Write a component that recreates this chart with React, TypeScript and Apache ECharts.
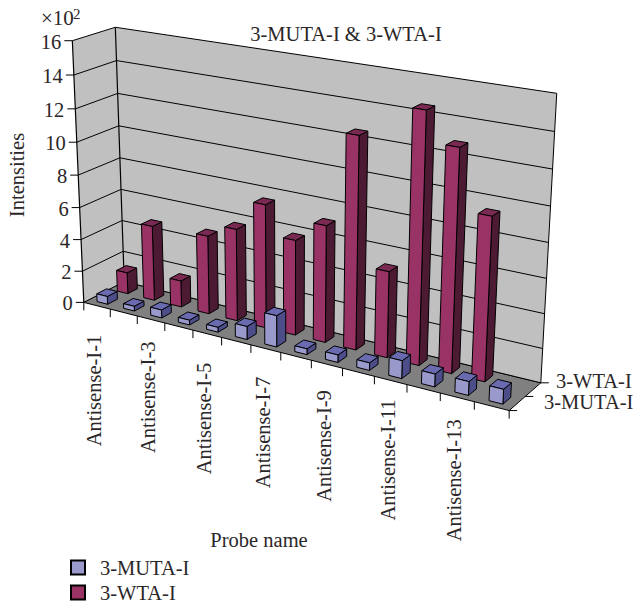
import React, { useEffect, useRef } from "react";
import * as echarts from "echarts";

const categories = Array.from({ length: 14 }, (_, i) => `Antisense-I-${i + 1}`);
const mutaValues = [50, 30, 50, 30, 30, 80, 190, 35, 45, 45, 105, 75, 80, 85];
const wtaValues = [135, 470, 165, 485, 565, 750, 575, 700, 1250, 510, 1450, 1280, 940, null];
const valueTicks = [0, 2, 4, 6, 8, 10, 12, 14, 16];
const seriesNames = ["3-MUTA-I", "3-WTA-I"];

const WIDTH = 635;
const HEIGHT = 602;
const VALUE_MAX = 1600;
const FONT = "'Liberation Serif', serif";
const TEXT = "#2b2728";
const FONT_SIZE = 20.5;

// Box corners as (along categories, depth, height) -> screen position.
const anchors: [number, number, number, number, number][] = [
  [0, 0, 0, 84, 302],
  [1, 0, 0, 509.3, 410.7],
  [0, 1, 0, 124, 282],
  [1, 1, 0, 540.7, 382.7],
  [0, 0, 1, 72, 41],
  [0, 1, 1, 115.7, 27],
  [1, 1, 1, 556.7, 93.3],
];

// Least-squares fit of an 11-parameter projective camera to the box corners.
function fitCamera(): number[] {
  const rows: number[][] = [];
  const rhs: number[] = [];
  for (const [X, Y, Z, x, y] of anchors) {
    rows.push([X, Y, Z, 1, 0, 0, 0, 0, -x * X, -x * Y, -x * Z]);
    rhs.push(x);
    rows.push([0, 0, 0, 0, X, Y, Z, 1, -y * X, -y * Y, -y * Z]);
    rhs.push(y);
  }
  const n = 11;
  const m: number[][] = [];
  for (let i = 0; i < n; i++) {
    const row = new Array(n + 1).fill(0);
    rows.forEach((r, k) => {
      for (let j = 0; j < n; j++) row[j] += r[i] * r[j];
      row[n] += r[i] * rhs[k];
    });
    m.push(row);
  }
  for (let c = 0; c < n; c++) {
    let p = c;
    for (let r = c + 1; r < n; r++) if (Math.abs(m[r][c]) > Math.abs(m[p][c])) p = r;
    [m[c], m[p]] = [m[p], m[c]];
    for (let r = 0; r < n; r++) {
      if (r === c) continue;
      const f = m[r][c] / m[c][c];
      for (let j = c; j <= n; j++) m[r][j] -= f * m[c][j];
    }
  }
  return m.map((row, i) => row[n] / row[i]);
}

const cam = fitCamera();
function project(u: number, v: number, w: number): [number, number] {
  const d = cam[8] * u + cam[9] * v + cam[10] * w + 1;
  return [
    (cam[0] * u + cam[1] * v + cam[2] * w + cam[3]) / d,
    (cam[4] * u + cam[5] * v + cam[6] * w + cam[7]) / d,
  ];
}

const line = (a: [number, number], b: [number, number], width = 1) => ({
  type: "line",
  z: 1,
  shape: { x1: a[0], y1: a[1], x2: b[0], y2: b[1] },
  style: { stroke: "#000", lineWidth: width },
});

const label = (
  text: string,
  x: number,
  y: number,
  align: string,
  rotation = 0,
  fontSize = FONT_SIZE,
) => ({
  type: "text",
  z: 3,
  x,
  y,
  rotation,
  style: {
    text,
    fill: TEXT,
    font: `${fontSize}px ${FONT}`,
    textAlign: align,
    textVerticalAlign: "middle",
  },
});

function frameElements() {
  const els: any[] = [];
  els.push({
    type: "polygon",
    z: 0,
    shape: { points: [project(0, 0, 0), project(1, 0, 0), project(1, 1, 0), project(0, 1, 0)] },
    style: { fill: "#808080", stroke: "#000", lineWidth: 1 },
  });
  els.push({
    type: "polygon",
    z: 0,
    shape: { points: [project(0, 0, 0), project(0, 1, 0), project(0, 1, 1), project(0, 0, 1)] },
    style: { fill: "#c0c0c0" },
  });
  els.push({
    type: "polygon",
    z: 0,
    shape: { points: [project(0, 1, 0), project(1, 1, 0), project(1, 1, 1), project(0, 1, 1)] },
    style: { fill: "#c0c0c0" },
  });

  // Gridlines run round the side wall and the back wall, with a tick on the axis.
  valueTicks.forEach((t) => {
    const w = (t * 100) / VALUE_MAX;
    const front = project(0, 0, w);
    const corner = project(0, 1, w);
    els.push(line(front, corner));
    els.push(line(corner, project(1, 1, w)));
    els.push(line(front, [front[0] - 8, front[1]]));
    els.push(label(String(t), front[0] - 11, front[1] + 1, "right"));
  });
  els.push(line(project(0, 0, 0), project(0, 0, 1), 1.2));
  els.push(line(project(0, 1, 0), project(0, 1, 1), 1.2));
  els.push(line(project(1, 1, 0), project(1, 1, 1)));

  // Category ticks along the front edge of the floor.
  categories.forEach((_, i) => {
    const p = project(i / categories.length, 0, 0);
    els.push(line(p, [p[0], p[1] + 8]));
  });
  const end = project(1, 0, 0);
  els.push(line(end, [end[0], end[1] + 8]));
  els.push(line(end, [end[0] + 8, end[1]]));

  // Every other probe name, reading upwards below its tick.
  const drop = [29, 22, 29, 28, 26, 19, 22];
  categories.forEach((name, i) => {
    if (i % 2) return;
    const p = project((i + 0.5) / categories.length, 0, 0);
    els.push({
      ...label(name, p[0] - 3, p[1] + drop[i / 2], "right", Math.PI / 2),
    });
  });

  // Depth ticks and names of the two series.
  const mid = project(1, 0.5, 0);
  const back = project(1, 1, 0);
  els.push(line(mid, [mid[0] + 8, mid[1]]));
  els.push(line(back, [back[0] + 8, back[1]]));
  els.push(label(seriesNames[1], 556, 381, "left"));
  els.push(label(seriesNames[0], 544, 402, "left"));

  els.push(label("\u00d710", 41, 18, "left", 0, 21));
  els.push(label("2", 73, 14, "left", 0, 15));
  els.push(label("3-MUTA-I & 3-WTA-I", 346, 34, "center"));
  els.push(label("Intensities", 17, 175, "center", Math.PI / 2));
  els.push(label("Probe name", 259, 540, "center"));
  return els;
}

const BAR_HALF_WIDTH = 0.2;
const BAR_HALF_DEPTH = 0.12;

function barRenderer(depth: number, colors: { front: string; top: string; side: string }) {
  return (_params: any, api: any) => {
    const value = api.value(1);
    if (value == null || Number.isNaN(value)) return null;
    const [px, py] = api.coord([api.value(0), value]);
    const [, py0] = api.coord([api.value(0), 0]);
    const slot = api.size([1, 0])[0];
    const u = px / WIDTH;
    const du = (slot * BAR_HALF_WIDTH) / WIDTH;
    const h = (py0 - py) / HEIGHT;
    const u0 = u - du;
    const u1 = u + du;
    const v0 = depth - BAR_HALF_DEPTH;
    const v1 = depth + BAR_HALF_DEPTH;
    const edge = { stroke: "#000", lineWidth: 1, lineJoin: "round" };
    const face = (points: [number, number][], fill: string) => ({
      type: "polygon",
      shape: { points },
      style: { fill, ...edge },
    });
    return {
      type: "group",
      children: [
        face([project(u1, v0, 0), project(u1, v1, 0), project(u1, v1, h), project(u1, v0, h)], colors.side),
        face([project(u0, v0, h), project(u1, v0, h), project(u1, v1, h), project(u0, v1, h)], colors.top),
        face([project(u0, v0, 0), project(u1, v0, 0), project(u1, v0, h), project(u0, v0, h)], colors.front),
      ],
    };
  };
}

const mutaColors = { front: "#9999cc", top: "#6a6ab0", side: "#4d4d8a" };
const wtaColors = { front: "#993366", top: "#7a2952", side: "#4d1a33" };

// One legend box per series, so each row sits at its own height.
const legendRow = (name: string, top: number) => ({
  left: 70,
  top,
  padding: 0,
  itemWidth: 14,
  itemHeight: 14,
  selectedMode: false,
  icon: "rect",
  data: [name],
  textStyle: { fontFamily: FONT, fontSize: FONT_SIZE, color: TEXT, padding: [0, 0, 0, 10] },
});

const App = () => {
  const ref = useRef<HTMLDivElement>(null);
  useEffect(() => {
    document.body.style.margin = "0";
    const chart = echarts.init(ref.current!, null, { renderer: "svg" });
    chart.setOption({
      animation: false,
      backgroundColor: "#fff",
      grid: { left: 0, right: 0, top: 0, bottom: 0 },
      xAxis: { type: "category", data: categories, show: false },
      yAxis: { type: "value", min: 0, max: VALUE_MAX, show: false },
      graphic: { elements: frameElements() },
      legend: [legendRow(seriesNames[0], 557), legendRow(seriesNames[1], 582)],
      series: [
        {
          name: seriesNames[1],
          type: "custom",
          z: 2,
          clip: false,
          itemStyle: { color: wtaColors.front, borderColor: "#000", borderWidth: 1 },
          encode: { x: 0, y: 1 },
          data: categories.map((c, i) => [c, wtaValues[i]]),
          renderItem: barRenderer(0.75, wtaColors),
        },
        {
          name: seriesNames[0],
          type: "custom",
          z: 3,
          clip: false,
          itemStyle: { color: mutaColors.front, borderColor: "#000", borderWidth: 1 },
          encode: { x: 0, y: 1 },
          data: categories.map((c, i) => [c, mutaValues[i]]),
          renderItem: barRenderer(0.25, mutaColors),
        },
      ],
    });
    return () => chart.dispose();
  }, []);
  return <div ref={ref} style={{ width: WIDTH, height: HEIGHT }} />;
};

export default App;
